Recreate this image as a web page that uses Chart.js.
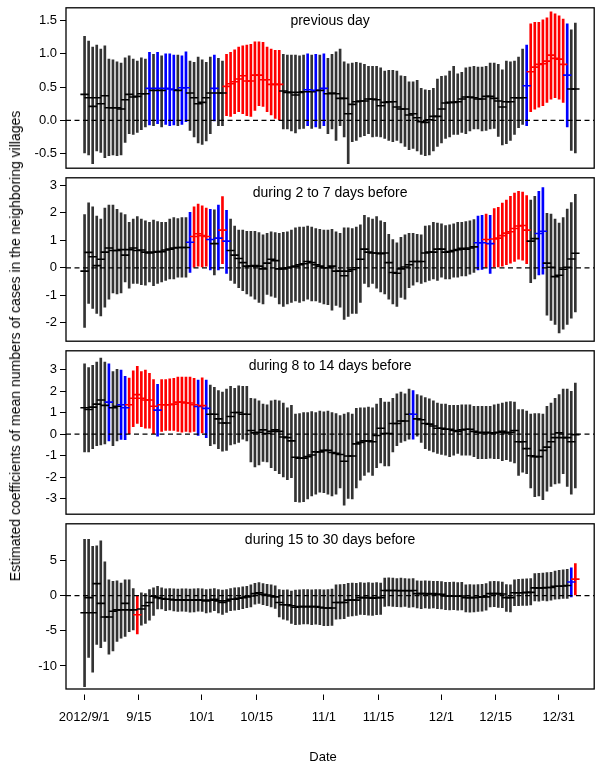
<!DOCTYPE html>
<html><head><meta charset="utf-8">
<script src="https://cdn.jsdelivr.net/npm/chart.js@4/dist/chart.umd.min.js"></script>
<style>
html,body{margin:0;padding:0;background:#fff;}
#wrap{position:relative;width:600px;height:763px;background:#fff;overflow:hidden;font-family:"Liberation Sans",Arial,sans-serif;color:#000;}
#wrap canvas{position:absolute;left:0;}
#ytitle{position:absolute;left:15px;top:346px;transform:translate(-50%,-50%) rotate(-90deg);white-space:nowrap;font-size:14px;}
#xtitle{position:absolute;left:323px;top:756px;transform:translate(-50%,-50%);white-space:nowrap;font-size:13px;}
</style></head>
<body><div id="wrap">
<canvas id="c1" width="600" height="172" style="top:2px"></canvas>
<canvas id="c2" width="600" height="175" style="top:172px"></canvas>
<canvas id="c3" width="600" height="175" style="top:345px"></canvas>
<canvas id="c4" width="600" height="245" style="top:518px"></canvas>
<div id="ytitle">Estimated coefficients of mean numbers of cases in the neighboring villages</div>
<div id="xtitle">Date</div>
</div>
<script>
// ---- categories: days since 2012/9/1 (9/1 ... 12/31) ----
const days = [];
for (let d = 0; d < 122; d++) days.push(d);

// x-axis tick labels and where they sit on the day axis (as printed in the original figure)
const xTickLabels = ['2012/9/1','9/15','10/1','10/15','11/1','11/15','12/1','12/15','12/31'];
const xTickPos    = [-0.1, 13.37, 28.89, 42.42, 59.0, 72.46, 87.96, 101.35, 116.92];

const panelLabels = ['previous day','during 2 to 7 days before','during 8 to 14 days before','during 15 to 30 days before'];

// y tick labels per panel
const yTicks1 = [-0.5, 0, 0.5, 1.0, 1.5];
const yTicks2 = [-2, -1, 0, 1, 2, 3];
const yTicks3 = [-3, -2, -1, 0, 1, 2, 3];
const yTicks4 = [-10, -5, 0, 5];

// ---- panel 1: previous day ----
const est1 = [0.39,0.34,0.21,0.34,0.25,0.37,0.19,0.19,0.19,0.17,
0.31,0.39,0.35,0.36,0.40,0.40,0.48,0.45,0.48,0.45,
0.48,0.47,0.46,0.45,0.49,0.49,0.41,0.34,0.25,0.27,
0.34,0.41,0.48,0.41,0.41,0.51,0.55,0.58,0.62,0.67,
0.59,0.59,0.68,0.68,0.61,0.61,0.54,0.54,0.54,0.44,
0.42,0.42,0.38,0.42,0.43,0.46,0.43,0.45,0.45,0.48,
0.40,0.41,0.40,0.33,0.33,0.10,0.24,0.28,0.29,0.29,
0.32,0.32,0.31,0.22,0.27,0.28,0.28,0.20,0.17,0.17,
0.08,0.10,0.04,-0.02,-0.03,0.01,0.06,0.06,0.17,0.26,
0.27,0.27,0.28,0.32,0.35,0.35,0.34,0.32,0.32,0.36,
0.36,0.33,0.29,0.20,0.28,0.28,0.34,0.34,0.34,0.52,
0.73,0.80,0.84,0.85,0.89,0.98,0.93,0.92,0.84,0.68,
0.47,0.47];
const lo1 = [-0.49,-0.52,-0.65,-0.46,-0.48,-0.56,-0.53,-0.52,-0.53,-0.52,
-0.33,-0.20,-0.21,-0.18,-0.14,-0.10,-0.07,-0.08,-0.05,-0.10,
-0.06,-0.08,-0.07,-0.08,-0.06,-0.02,-0.15,-0.25,-0.34,-0.36,
-0.31,-0.20,-0.01,-0.08,-0.08,0.07,0.06,0.10,0.13,0.10,
0.07,0.06,0.15,0.22,0.21,0.13,0.08,0.03,0.01,-0.13,
-0.13,-0.16,-0.19,-0.13,-0.12,-0.08,-0.12,-0.10,-0.12,-0.08,
-0.20,-0.13,-0.30,-0.08,-0.25,-0.65,-0.32,-0.30,-0.25,-0.23,
-0.20,-0.25,-0.24,-0.25,-0.27,-0.30,-0.32,-0.30,-0.34,-0.39,
-0.44,-0.42,-0.46,-0.51,-0.53,-0.52,-0.46,-0.39,-0.34,-0.27,
-0.25,-0.21,-0.21,-0.18,-0.20,-0.16,-0.13,-0.13,-0.16,-0.15,
-0.13,-0.12,-0.24,-0.37,-0.35,-0.30,-0.21,-0.11,-0.06,-0.08,
0.13,0.17,0.20,0.22,0.27,0.32,0.34,0.32,0.27,-0.10,
-0.45,-0.49];
const hi1 = [1.26,1.19,1.10,1.13,1.07,1.12,0.92,0.91,0.88,0.86,
0.94,0.97,0.92,0.89,0.94,0.92,1.02,0.99,1.02,0.97,
1.00,1.00,0.98,0.98,0.97,1.03,0.89,0.87,0.95,0.91,
0.87,0.95,0.98,0.93,0.89,0.99,1.02,1.06,1.10,1.12,
1.13,1.14,1.18,1.18,1.17,1.10,1.07,1.05,1.05,0.99,
0.98,0.98,0.98,0.97,0.98,1.00,0.98,0.99,0.98,1.00,
0.93,0.99,1.03,1.07,0.88,0.85,0.86,0.87,0.86,0.84,
0.81,0.81,0.81,0.79,0.74,0.75,0.75,0.74,0.67,0.66,
0.58,0.58,0.60,0.48,0.46,0.45,0.48,0.62,0.66,0.67,
0.74,0.81,0.70,0.72,0.79,0.80,0.81,0.80,0.80,0.81,
0.86,0.86,0.84,0.76,0.89,0.88,0.89,0.95,1.07,1.13,
1.45,1.47,1.47,1.51,1.54,1.63,1.60,1.57,1.52,1.45,
1.36,1.46];
const blue1 = [16,18,20,21,22,24,25,32,55,57,59,109,119];
const red1  = [35,36,37,38,39,40,41,42,43,44,45,46,47,48,110,111,112,113,114,115,116,117,118];

// ---- panel 2: during 2 to 7 days before ----
const est2 = [-0.12,0.56,0.40,0.08,0.31,0.57,0.72,0.63,0.63,0.66,
0.46,0.66,0.72,0.63,0.65,0.57,0.54,0.57,0.59,0.59,
0.65,0.68,0.72,0.74,0.74,0.74,0.93,1.14,1.24,1.17,
1.14,1.03,0.88,1.08,1.37,0.97,0.63,0.46,0.34,0.19,
0.06,0.06,0.08,0.06,-0.04,0.17,0.31,0.26,-0.04,-0.04,
0.00,0.03,0.06,0.11,0.15,0.23,0.19,0.11,0.06,0.00,
0.00,0.06,-0.12,-0.12,-0.29,-0.12,-0.06,0.00,0.31,0.68,
0.57,0.54,0.54,0.51,0.54,0.19,-0.17,-0.20,-0.04,0.03,
0.11,0.23,0.23,0.23,0.54,0.57,0.57,0.68,0.68,0.57,
0.59,0.63,0.66,0.71,0.68,0.72,0.76,0.91,0.91,1.03,
0.88,1.05,1.08,1.17,1.26,1.31,1.43,1.52,1.54,1.37,
0.97,1.06,1.25,1.33,0.17,0.02,-0.32,-0.27,-0.05,0.02,
0.32,0.53];
const lo2 = [-2.17,-1.29,-1.48,-1.66,-1.75,-1.43,-1.14,-0.91,-0.95,-0.91,
-0.51,-0.74,-0.57,-0.57,-0.61,-0.63,-0.51,-0.65,-0.57,-0.51,
-0.46,-0.40,-0.40,-0.34,-0.34,-0.34,-0.17,0.02,0.06,0.03,
0.06,-0.08,-0.26,-0.08,0.15,-0.20,-0.46,-0.57,-0.72,-0.83,
-0.95,-1.03,-1.14,-1.26,-1.31,-0.97,-1.03,-1.08,-1.31,-1.40,
-1.31,-1.26,-1.20,-1.26,-1.20,-1.14,-1.20,-1.20,-1.26,-1.31,
-1.34,-1.54,-1.37,-1.43,-1.88,-1.77,-1.66,-1.66,-1.26,-0.57,
-0.69,-0.57,-0.74,-0.88,-0.95,-1.14,-1.31,-1.40,-1.08,-1.14,
-0.72,-0.63,-0.51,-0.57,-0.51,-0.46,-0.40,-0.46,-0.34,-0.40,
-0.40,-0.34,-0.34,-0.29,-0.29,-0.23,-0.17,-0.08,-0.06,0.02,
-0.20,0.03,0.03,0.06,0.11,0.17,0.23,0.31,0.28,0.15,
-0.54,-0.40,-0.26,-0.23,-1.72,-1.91,-2.06,-2.37,-2.23,-2.06,
-1.83,-1.60];
const hi2 = [1.94,2.36,2.22,1.88,1.77,2.17,2.28,2.28,2.13,2.00,
1.94,1.65,1.77,1.86,1.77,1.71,1.65,1.74,1.68,1.65,
1.65,1.77,1.83,1.79,1.83,1.83,2.02,2.22,2.32,2.25,
2.17,2.13,2.11,2.28,2.59,2.09,1.77,1.52,1.37,1.37,
1.33,1.33,1.33,1.28,1.20,1.25,1.31,1.28,1.25,1.29,
1.31,1.37,1.45,1.48,1.48,1.52,1.48,1.43,1.40,1.37,
1.37,1.40,1.31,1.25,1.45,1.45,1.43,1.48,1.56,1.91,
1.83,1.77,1.86,1.71,1.65,1.22,1.03,0.91,1.11,1.20,
1.25,1.25,1.22,1.20,1.52,1.54,1.65,1.63,1.60,1.54,
1.56,1.60,1.65,1.65,1.68,1.71,1.75,1.88,1.91,1.95,
1.91,2.15,2.20,2.35,2.46,2.60,2.72,2.78,2.75,2.63,
2.46,2.60,2.78,2.92,1.98,1.95,1.77,1.63,1.83,2.14,
2.37,2.67];
const blue2 = [26,31,33,35,97,98,100,112,113];
const red2  = [27,28,29,30,34,99,101,102,103,104,105,106,107,108,109];

// ---- panel 3: during 8 to 14 days before ----
const est3 = [1.23,1.15,1.26,1.40,1.59,1.34,1.49,1.23,1.30,1.37,
1.23,1.37,1.67,1.84,1.67,1.59,1.59,1.30,1.12,1.37,
1.37,1.37,1.40,1.49,1.49,1.45,1.45,1.37,1.29,1.33,
1.20,0.93,0.93,0.71,0.52,0.52,0.82,1.01,1.01,0.93,
0.93,0.17,0.06,0.09,0.20,0.03,0.13,0.20,0.13,-0.13,
-0.16,-0.31,-1.07,-1.11,-1.11,-1.04,-0.97,-0.82,-0.82,-0.75,
-0.75,-0.85,-0.89,-0.94,-1.26,-1.01,-1.01,-0.45,-0.38,-0.31,
-0.31,-0.35,-0.06,0.28,0.03,0.03,0.50,0.50,0.61,0.61,
0.93,0.93,0.71,0.67,0.50,0.47,0.38,0.28,0.28,0.23,
0.23,0.17,0.13,0.20,0.23,0.23,0.13,0.09,0.06,0.09,
0.06,0.06,0.09,0.13,0.06,0.09,0.17,-0.35,-0.35,-0.67,
-1.00,-1.04,-1.04,-0.75,-0.60,-0.35,-0.16,0.06,-0.16,-0.16,
-0.35,-0.02];
const lo3 = [-0.82,-0.82,-0.67,-0.53,-0.50,-0.45,-0.31,-0.53,-0.31,-0.24,
-0.26,0.03,0.35,0.50,0.35,0.28,0.28,0.03,-0.09,0.13,
0.17,0.17,0.17,0.13,0.09,0.13,0.09,0.13,-0.06,0.06,
-0.16,-0.53,-0.45,-0.67,-0.79,-0.75,-0.50,-0.45,-0.38,-0.23,
-0.31,-1.29,-1.52,-1.43,-1.26,-1.29,-1.55,-1.70,-1.84,-1.99,
-2.11,-2.02,-3.13,-3.16,-3.13,-3.01,-2.87,-2.79,-2.69,-2.72,
-2.79,-2.87,-2.79,-2.50,-3.30,-2.98,-3.01,-2.50,-2.14,-1.92,
-1.77,-1.92,-1.55,-1.33,-1.48,-1.48,-0.82,-0.53,-0.38,-0.31,
-0.23,-0.23,-0.09,-0.38,-0.67,-0.75,-0.82,-0.89,-0.94,-0.97,
-1.04,-0.97,-0.89,-0.97,-0.97,-0.97,-1.04,-1.14,-1.14,-1.14,
-1.11,-1.14,-1.14,-1.23,-1.18,-1.26,-1.33,-1.92,-1.77,-1.84,
-2.50,-2.90,-2.87,-3.04,-2.65,-2.43,-2.31,-2.28,-1.84,-2.43,
-2.79,-2.50];
const hi3 = [3.27,3.10,3.20,3.35,3.54,3.35,3.27,2.91,3.01,2.98,
2.69,2.61,2.95,3.16,2.91,2.98,2.83,2.54,2.32,2.54,
2.54,2.57,2.60,2.66,2.66,2.66,2.66,2.60,2.51,2.62,
2.51,2.28,2.18,2.03,1.96,2.10,2.22,2.13,2.25,2.22,
2.22,1.67,1.64,1.55,1.40,1.37,1.55,1.59,1.55,1.45,
1.23,1.34,0.93,0.96,1.01,1.01,1.05,1.01,1.08,1.04,
1.08,1.01,0.96,0.86,0.93,1.01,0.93,1.20,1.23,1.23,
1.26,1.23,1.40,1.67,1.49,1.49,1.67,1.88,1.96,1.88,
2.10,2.03,1.84,1.78,1.70,1.64,1.55,1.45,1.40,1.40,
1.34,1.34,1.34,1.37,1.37,1.37,1.30,1.30,1.30,1.30,
1.30,1.37,1.40,1.45,1.49,1.52,1.49,1.15,1.15,1.08,
0.93,0.96,0.96,0.93,1.30,1.45,1.67,1.84,2.10,2.10,
1.99,2.37];
const blue3 = [6,9,10,18,28,30,81];
const red3  = [11,12,13,14,15,16,17,19,20,21,22,23,24,25,26,27,29];

// ---- panel 4: during 15 to 30 days before ----
const est4 = [-2.44,-0.28,-2.44,1.70,-1.10,-3.04,-3.04,-2.21,-2.03,-2.03,
-1.10,-2.03,-2.03,-2.72,-1.89,-1.43,-0.97,-0.09,-0.28,-0.41,
-0.51,-0.51,-0.60,-0.60,-0.60,-0.64,-0.64,-0.64,-0.60,-0.64,
-0.74,-0.64,-0.51,-0.74,-0.97,-0.74,-0.51,-0.51,-0.37,-0.28,
-0.18,-0.05,0.28,0.41,0.18,0.09,-0.05,-0.18,-0.97,-1.29,
-1.29,-1.43,-1.66,-1.56,-1.56,-1.56,-1.56,-1.56,-1.66,-1.75,
-1.75,-1.75,-0.97,-0.97,-0.97,-0.64,-0.64,-0.64,-0.28,-0.28,
-0.28,-0.37,-0.28,-0.28,0.74,0.74,0.74,0.74,0.69,0.74,
0.69,0.74,0.28,0.28,0.28,0.23,0.28,0.18,0.18,-0.05,
-0.05,-0.05,-0.09,-0.05,-0.28,-0.28,-0.28,-0.23,-0.18,-0.18,
0.28,0.28,0.28,0.23,-0.28,-0.28,0.41,0.41,0.41,0.46,
0.46,1.10,1.10,1.10,1.15,1.15,1.34,1.34,1.38,1.43,
1.93,2.35];
const lo4 = [-12.94,-8.79,-10.87,-6.95,-7.41,-6.49,-8.33,-7.87,-6.49,-6.03,
-5.80,-5.11,-4.88,-5.43,-4.19,-3.96,-3.50,-2.81,-1.89,-1.89,
-2.12,-2.03,-2.17,-2.26,-2.21,-2.26,-2.35,-2.30,-2.21,-2.26,
-2.44,-2.35,-2.12,-2.44,-2.67,-2.40,-2.12,-2.07,-1.98,-1.84,
-1.70,-1.61,-1.20,-1.10,-1.29,-1.43,-1.61,-1.80,-3.04,-3.36,
-3.50,-3.96,-4.14,-4.10,-4.01,-4.01,-4.14,-4.05,-4.14,-4.28,
-4.28,-4.23,-3.36,-3.31,-3.27,-2.95,-2.90,-2.81,-2.67,-2.72,
-2.76,-2.81,-2.72,-2.67,-1.52,-1.47,-1.52,-1.56,-1.61,-1.52,
-1.66,-1.61,-1.75,-1.84,-1.75,-1.80,-1.75,-1.84,-1.89,-1.98,
-2.03,-1.98,-2.07,-2.03,-2.30,-2.35,-2.30,-2.26,-2.21,-2.07,
-1.61,-1.56,-1.66,-1.70,-2.26,-2.30,-1.43,-1.43,-1.38,-1.38,
-1.33,-0.74,-0.78,-0.69,-0.74,-0.64,-0.51,-0.46,-0.41,-0.41,
-0.18,0.09];
const hi4 = [8.01,8.01,7.00,7.09,7.78,4.79,2.26,2.03,2.12,1.80,
2.26,2.26,1.01,-0.05,0.41,0.28,0.87,1.10,1.33,1.10,
0.97,1.01,0.97,0.92,0.97,0.97,0.92,0.97,1.01,0.97,
0.87,0.92,1.01,0.87,0.78,0.87,1.01,1.10,1.15,1.24,
1.33,1.52,1.75,1.84,1.70,1.61,1.52,1.38,0.87,0.78,
0.82,0.64,0.78,0.82,0.87,0.87,0.82,0.87,0.87,0.82,
0.87,0.92,1.52,1.56,1.61,1.75,1.79,1.75,1.84,1.79,
1.84,1.79,1.84,1.79,2.49,2.53,2.49,2.44,2.49,2.44,
2.40,2.44,2.12,2.07,2.12,2.07,2.03,2.03,1.98,1.89,
1.89,1.93,1.84,1.89,1.52,1.56,1.52,1.56,1.61,1.70,
1.98,2.03,1.98,1.93,1.56,1.52,2.26,2.30,2.35,2.40,
2.44,3.13,3.18,3.22,3.27,3.31,3.50,3.59,3.68,3.73,
3.96,4.56];
const blue4 = [120];
const red4  = [13,121];

// ---- drawing ----
const FONT = '"Liberation Sans", Arial, sans-serif';
const X_MIN = -4.578, X_MAX = 125.65;
const BAR_COL = {k: '#333333', b: '#0000ff', r: '#ff0000'};
const EST_COL = {k: '#000000', b: '#0000ff', r: '#ff0000'};

const boxPlugin = {
  id: 'box',
  afterDraw(chart, args, opts) {
    const {ctx, chartArea: a} = chart;
    ctx.save();
    ctx.strokeStyle = '#000';
    ctx.lineWidth = 1.3;
    ctx.strokeRect(a.left, a.top, a.right - a.left, a.bottom - a.top);
    if (opts.label) {
      ctx.fillStyle = '#000';
      ctx.font = '14px ' + FONT;
      ctx.textAlign = 'center';
      ctx.textBaseline = 'middle';
      ctx.fillText(opts.label, (a.left + a.right) / 2, a.top + (opts.labelOffset || 15));
    }
    ctx.restore();
  }
};

function makePanel(id, est, lo, hi, blue, red, yMin, yMax, yTicks, decimals, label, labelOffset, bottom) {
  const code = days.map(d => red.includes(d) ? 'r' : (blue.includes(d) ? 'b' : 'k'));
  const bars = days.map((d, i) => ({x: d, y: [lo[i], hi[i]]}));
  const pts = days.map((d, i) => ({x: d, y: est[i]}));
  const xScale = {
    type: 'linear', min: X_MIN, max: X_MAX, display: !!bottom, offset: false,
    afterBuildTicks: s => { s.ticks = xTickPos.map(v => ({value: v})); },
    afterFit: s => { if (bottom) { s.height = 74; s.paddingLeft = 0; s.paddingRight = 0; } else { s.height = 0; } },
    border: {display: false},
    grid: {display: true, offset: false, drawOnChartArea: false, drawTicks: true, tickLength: 11,
           color: '#000', lineWidth: 1, tickBorderDash: [0, 5.5, 5.5, 40]},
    ticks: {autoSkip: false, maxRotation: 0, minRotation: 0, padding: 10, color: '#000',
            font: {family: FONT, size: 13},
            callback: (v, i) => xTickLabels[i]}
  };
  const yScale = {
    type: 'linear', position: 'left', min: yMin, max: yMax,
    afterBuildTicks: s => { s.ticks = yTicks.map(v => ({value: v})); },
    afterFit: s => { s.width = 66; s.paddingTop = 0; s.paddingBottom = 0; },
    border: {display: false},
    grid: {display: true, drawOnChartArea: false, drawTicks: true, tickLength: 6, color: '#000', lineWidth: 1},
    ticks: {padding: 3, color: '#000', font: {family: FONT, size: 13},
            callback: v => Number(v).toFixed(decimals)}
  };
  return new Chart(document.getElementById(id), {
    type: 'bar',
    data: {
      datasets: [
        {type: 'line', data: [{x: X_MIN, y: 0}, {x: X_MAX, y: 0}], borderColor: '#000',
         borderWidth: 1.2, borderDash: [5, 3.5], pointRadius: 0, order: 0},
        {type: 'line', data: pts, showLine: false, pointStyle: 'line', pointRadius: 4.2,
         pointHoverRadius: 4.2, pointBorderWidth: 1.6, pointBorderColor: code.map(c => EST_COL[c]),
         pointBackgroundColor: code.map(c => EST_COL[c]), order: 1},
        {type: 'bar', data: bars, barThickness: 2, borderWidth: 0,
         backgroundColor: code.map(c => BAR_COL[c]), order: 2}
      ]
    },
    options: {
      responsive: false, animation: false, devicePixelRatio: 1,
      layout: {padding: {left: 0, right: 2, top: 1, bottom: bottom ? 0 : 1}},
      plugins: {legend: {display: false}, tooltip: {enabled: false},
                box: {label: label, labelOffset: labelOffset}},
      scales: {x: xScale, y: yScale}
    },
    plugins: [boxPlugin]
  });
}

makePanel('c1', est1, lo1, hi1, blue1, red1, -0.718, 1.690, yTicks1, 1, panelLabels[0], 13.5, false);
makePanel('c2', est2, lo2, hi2, blue2, red2, -2.668, 3.273, yTicks2, 0, panelLabels[1], 15.5, false);
makePanel('c3', est3, lo3, hi3, blue3, red3, -3.718, 3.876, yTicks3, 0, panelLabels[2], 15.5, false);
makePanel('c4', est4, lo4, hi4, blue4, red4, -13.27, 10.21, yTicks4, 0, panelLabels[3], 16, true);
</script>
</body></html>
